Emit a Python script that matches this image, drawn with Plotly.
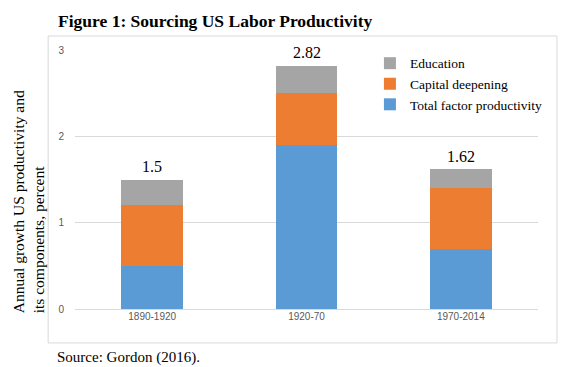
import plotly.graph_objects as go

categories = ["1890-1920", "1920-70", "1970-2014"]
tfp = [0.5, 1.9, 0.7]
capital = [0.7, 0.6, 0.7]
education = [0.3, 0.32, 0.22]
totals = [1.5, 2.82, 1.62]
total_labels = ["1.5", "2.82", "1.62"]
y_ticks = [0, 1, 2, 3]

serif = "Liberation Serif, Times New Roman, serif"
sans = "Liberation Sans, Arial, sans-serif"

fig = go.Figure()
fig.add_trace(go.Bar(x=categories, y=tfp, name="Total factor productivity",
                     marker=dict(color="#5B9BD5", line=dict(width=0))))
fig.add_trace(go.Bar(x=categories, y=capital, name="Capital deepening",
                     marker=dict(color="#ED7D31", line=dict(width=0))))
fig.add_trace(go.Bar(x=categories, y=education, name="Education",
                     marker=dict(color="#A5A5A5", line=dict(width=0))))

annotations = []
for c, t, lab in zip(categories, totals, total_labels):
    annotations.append(dict(text=lab, x=c, y=t, xref="x", yref="y",
                            xanchor="center", yanchor="middle", yshift=13,
                            showarrow=False,
                            font=dict(family=serif, size=16, color="#000000")))

annotations += [
    dict(text="<b>Figure 1: Sourcing US Labor Productivity</b>",
         xref="paper", yref="paper", x=-0.041, y=1.112,
         xanchor="left", yanchor="middle", showarrow=False,
         font=dict(family=serif, size=17.5, color="#000000")),
    dict(text="Annual growth US productivity and<br>its components, percent",
         xref="paper", yref="paper", x=-0.1015, y=0.412,
         xanchor="center", yanchor="middle", showarrow=False, textangle=-90,
         align="left", font=dict(family=serif, size=15.5, color="#000000")),
    dict(text="Source: Gordon (2016).",
         xref="paper", yref="paper", x=-0.043, y=-0.189,
         xanchor="left", yanchor="middle", showarrow=False,
         font=dict(family=serif, size=15, color="#000000")),
]

# page body has an 8px default margin, so the figure is 8px smaller
fig.update_layout(
    width=561, height=359,
    margin=dict(l=67, r=31, t=42, b=58),
    barmode="stack", bargap=0.6,
    plot_bgcolor="white", paper_bgcolor="white",
    showlegend=True,
    legend=dict(x=0.637, y=1.008, xanchor="left", yanchor="top",
                traceorder="reversed", bgcolor="rgba(0,0,0,0)",
                font=dict(family=serif, size=13.5, color="#000000"),
                tracegroupgap=0),
    xaxis=dict(showgrid=False, showline=False, ticks="",
               tickfont=dict(family=sans, size=10, color="#595959")),
    yaxis=dict(range=[0, 3], tickvals=y_ticks, showgrid=True, gridcolor="#D9D9D9",
               gridwidth=1, zeroline=True, zerolinecolor="#D9D9D9", zerolinewidth=1,
               showline=False, ticks="", ticklabelstandoff=10,
               tickfont=dict(family=sans, size=10, color="#595959")),
    shapes=[dict(type="rect", xref="paper", yref="paper",
                 x0=-0.058, x1=1.041, y0=-0.131, y1=1.054,
                 line=dict(color="#D9D9D9", width=1), fillcolor="rgba(0,0,0,0)",
                 layer="below")],
    annotations=annotations,
)

fig.write_html("out.html")
